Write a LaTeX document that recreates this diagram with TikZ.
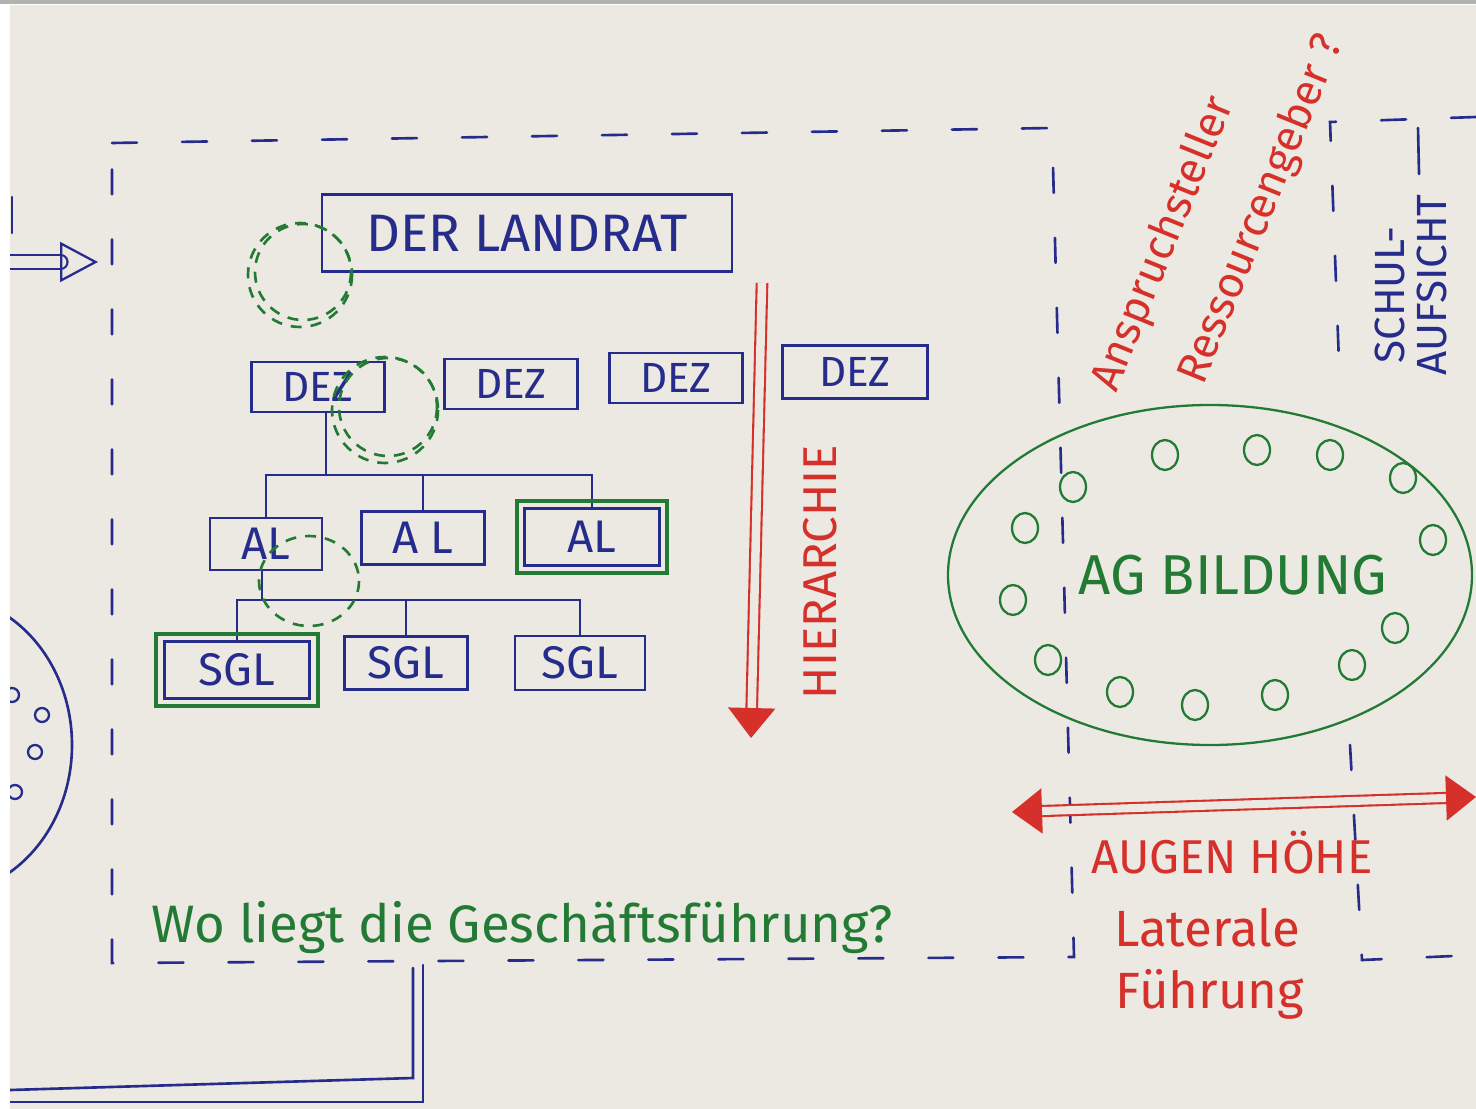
\documentclass[tikz,border=0pt]{standalone}
\usepackage{fontspec}
\setmainfont{Fira Sans}
\usetikzlibrary{calc}
\usetikzlibrary{arrows.meta}

\definecolor{paper}{RGB}{236,233,226}
\definecolor{inkblue}{RGB}{38,44,140}
\definecolor{inkred}{RGB}{214,48,42}
\definecolor{inkgreen}{RGB}{34,122,52}
\newcommand{\penfont}[1]{\fontsize{#1}{#1}\selectfont}

\begin{document}
\begin{tikzpicture}[x=0.2mm,y=-0.2mm,
	bluepen/.style={draw=inkblue,line width=1.5pt,line cap=round},
	redpen/.style={draw=inkred,line width=1.2pt},
	greenpen/.style={draw=inkgreen,line width=1.3pt},
	frame/.style={bluepen,dash pattern=on 5mm off 9mm},
	loopmark/.style={draw=inkgreen,line width=1.5pt,dash pattern=on 2.2mm off 1.8mm},
	unitbox/.style={bluepen,rectangle,inner sep=0pt,text=inkblue},
	marked/.style={draw=inkgreen,line width=2.2pt}]
	% paper
	\fill[white] (0,0) rectangle (1476,1109);
	\fill[paper] (10,5) rectangle (1476,1109);
	\fill[gray!60] (0,0) rectangle (1476,4);
	\useasboundingbox (0,0) rectangle (1476,1109);
	\begin{scope}
	\clip (10,5) rectangle (1476,1109);

	% outer frame
	\coordinate (fA) at (112,143);
	\coordinate (fB) at (1052,128);
	\coordinate (fC) at (1074,957);
	\coordinate (fD) at (112,963);
	\draw[frame] (fA) -- (fB) -- (fC) -- (fD) -- cycle;

	% schulaufsicht frame
	\coordinate (sA) at (1476,117);
	\coordinate (sB) at (1330,122);
	\coordinate (sC) at (1340,390);
	\coordinate (sD) at (1350,745);
	\coordinate (sE) at (1362,960);
	\coordinate (sF) at (1476,955);
	\draw[frame] (sA) -- (sB) -- (sC);
	\draw[frame] (sD) -- (sE) -- (sF);
	\draw[bluepen] (1418,128) -- (1419,174);

	% left side
	\draw[bluepen] (12,197) -- (12,233);
	\coordinate (inTail) at (10,262);
	\coordinate (inTip) at (98,262);
	\draw[bluepen,line width=1.3pt,double=paper,double distance=2.3mm,-{Triangle[open,length=7.6mm,width=8mm]}] (inTail) -- (inTip);
	\draw[bluepen] (-60,745) ellipse [x radius=132,y radius=150];
	\foreach \p in {(12,695),(42,715),(35,752),(15,792)}
		\draw[bluepen,line width=1.3pt] \p circle [radius=7];
	\draw[bluepen] (423,965) -- (423,1102) -- (10,1102);
	\draw[bluepen] (413,968) -- (413,1078) -- (10,1090);

	% hierarchy boxes
	\node[unitbox,minimum width=82mm,minimum height=15.4mm,font=\penfont{30}] (landrat) at (527,233) {DER LANDRAT};
	\node[unitbox,minimum width=26.6mm,minimum height=10mm,font=\penfont{24}] (dez1) at (318,387) {DEZ};
	\node[unitbox,minimum width=26.6mm,minimum height=10mm,font=\penfont{24}] (dez2) at (511,384) {DEZ};
	\node[unitbox,minimum width=26.6mm,minimum height=10mm,font=\penfont{24}] (dez3) at (676,378) {DEZ};
	\node[unitbox,minimum width=29mm,minimum height=10.6mm,font=\penfont{24}] (dez4) at (855,372) {DEZ};
	\node[unitbox,minimum width=22.4mm,minimum height=10.4mm,font=\penfont{26}] (al1) at (266,544) {AL};
	\node[unitbox,minimum width=24.6mm,minimum height=10.6mm,font=\penfont{26}] (al2) at (423,538) {A L};
	\node[unitbox,minimum width=27mm,minimum height=11.4mm,font=\penfont{26}] (al3) at (592,537) {AL};
	\node[unitbox,minimum width=29mm,minimum height=11.4mm,font=\penfont{26}] (sgl1) at (237,670) {SGL};
	\node[unitbox,minimum width=24.6mm,minimum height=10.6mm,font=\penfont{26}] (sgl2) at (406,663) {SGL};
	\node[unitbox,minimum width=26mm,minimum height=10.8mm,font=\penfont{26}] (sgl3) at (580,663) {SGL};

	\coordinate (j1) at (326,475);
	\draw[bluepen] (dez1.south -| j1) -- (j1);
	\draw[bluepen] (j1) -| (al1.north);
	\draw[bluepen] (j1) -| (al2.north);
	\draw[bluepen] (j1) -| (al3.north);
	\coordinate (j2) at (262,600);
	\draw[bluepen] (al1.south -| j2) -- (j2);
	\draw[bluepen] (j2) -| (sgl1.north);
	\draw[bluepen] (j2) -| (sgl2.north);
	\draw[bluepen] (j2) -| (sgl3.north);

	\draw[marked] ($(al3.north west)+(-6,-6)$) rectangle ($(al3.south east)+(6,6)$);
	\draw[marked] ($(sgl1.north west)+(-7,-6)$) rectangle ($(sgl1.south east)+(7,6)$);

	% green loops
	\draw[loopmark] (300,275) circle [radius=52];
	\draw[loopmark] (303,272) circle [radius=48];
	\draw[loopmark] (385,410) circle [radius=53];
	\draw[loopmark] (388,407) circle [radius=49];
	\draw[loopmark] (309,581) ellipse [x radius=50,y radius=45];

	% hierarchy arrow
	\coordinate (hiTop) at (762,283);
	\coordinate (hiTip) at (751,738);
	\draw[redpen,double=paper,double distance=1.7mm,-{Triangle[length=6mm,width=9.4mm]}] (hiTop) -- (hiTip);
	\node[text=inkred,font=\penfont{27},rotate=90] (hierText) at (820,572) {HIERARCHIE};

	% red notes
	\node[text=inkred,font=\penfont{25},rotate=68] (anspruch) at (1164,244) {Anspruchsteller};
	\node[text=inkred,font=\penfont{25},rotate=68] (ressource) at (1262,210) {Ressourcengeber ?};

	% schulaufsicht
	\node[text=inkblue,font=\penfont{24},rotate=90] (schul) at (1390,295) {SCHUL-};
	\node[text=inkblue,font=\penfont{24},rotate=90] (aufsicht) at (1432,285) {AUFSICHT};

	% AG Bildung
	\draw[greenpen] (1210,575) ellipse [x radius=262,y radius=170];
	\foreach \p in {(1073,487),(1165,455),(1257,450),(1330,455),(1403,478),(1025,528),(1433,540),
		(1013,600),(1395,628),(1048,660),(1352,665),(1120,692),(1195,705),(1275,695)}
		\draw[greenpen] \p ellipse [x radius=13,y radius=15];
	\node[text=inkgreen,font=\penfont{32}] (agText) at (1233,575) {AG BILDUNG};

	% augenhoehe arrow
	\coordinate (ahL) at (1012,812);
	\coordinate (ahR) at (1476,797);
	\draw[redpen,double=paper,double distance=1.6mm,{Triangle[length=6mm,width=9mm]}-{Triangle[length=6mm,width=9mm]}] (ahL) -- (ahR);
	\node[text=inkred,font=\penfont{27}] (augen) at (1232,853) {AUGEN HÖHE};
	\node[text=inkred,font=\penfont{29}] (lateral) at (1207,928) {Laterale};
	\node[text=inkred,font=\penfont{29}] (fuehrung) at (1210,994) {Führung};

	% question
	\node[text=inkgreen,font=\penfont{30}] (frage) at (522,928) {Wo liegt die Geschäftsführung?};
	\end{scope}
\end{tikzpicture}
\end{document}
